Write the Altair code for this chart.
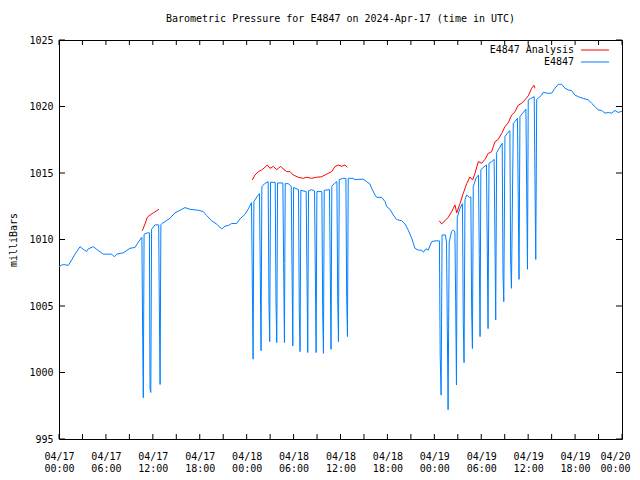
import altair as alt
import pandas as pd

# ---------------- data (hours after 2024-04-17 00:00 UTC, milliBars) ----------------
blue_hours = [
    0.0, 0.4, 0.77, 1.19, 1.62, 2.05, 2.69, 3.11, 3.54, 3.75, 4.39, 4.82, 5.66, 6.74, 7.07, 7.38,
    8.22, 9.08, 9.72, 10.14, 10.6,
    10.68, 10.78, 10.88, 11.3, 11.56, 11.64, 11.74, 11.84, 12.28, 12.75, 12.83, 12.93, 13.03,
    13.17, 13.55, 14.19, 14.83, 15.47, 16.11, 16.75, 17.81, 18.45, 18.89, 19.53, 20.17, 20.81,
    21.23, 21.65, 22.08, 22.72, 23.15, 23.79, 24.21,
    24.62, 24.72, 24.82, 24.92,
    25.3, 25.64, 25.74, 25.84, 25.94,
    26.3, 26.75, 26.85, 26.95, 27.05,
    27.65, 27.75, 27.85, 27.95,
    28.63, 28.73, 28.83, 28.93,
    29.3, 29.7, 29.8, 29.9, 30.0,
    30.63, 30.73, 30.83, 30.93,
    31.61, 31.71, 31.81, 31.91,
    32.3, 32.68, 32.78, 32.88, 32.98,
    33.62, 33.72, 33.82, 33.92,
    34.59, 34.69, 34.79, 34.89,
    35.2, 35.54, 35.64, 35.74, 35.84,
    36.3, 36.69, 36.79, 36.89, 36.99,
    37.6, 37.85, 38.49, 38.91, 39.35, 39.77, 39.99, 40.41, 40.63, 41.27, 41.69, 41.91, 42.33,
    42.75, 43.18, 43.82, 44.25, 44.67, 45.1, 45.52, 45.95, 46.38, 46.59, 46.93, 47.22, 47.66,
    48.08, 48.5,
    48.65, 48.75, 48.87, 48.99, 49.4,
    49.56, 49.66, 49.76, 49.9, 50.2, 50.42,
    50.63, 50.73, 50.83, 50.93, 51.28,
    51.6, 51.7, 51.8, 51.92, 52.14, 52.47,
    52.67, 52.77, 52.87, 52.98, 53.32,
    53.65, 53.75, 53.85, 53.95, 54.26,
    54.67, 54.77, 54.87, 54.99, 55.33,
    55.65, 55.75, 55.85, 55.97, 56.3,
    56.68, 56.78, 56.88, 57.03, 57.33,
    57.66, 57.76, 57.86, 58.1, 58.35,
    58.63, 58.73, 58.83, 58.95, 59.3,
    59.71, 59.81, 59.91, 60.01, 60.32,
    60.77, 60.87, 60.97, 61.09, 61.42, 61.73,
    61.93, 62.37, 63.0, 63.43, 63.85, 64.28, 64.71, 65.13, 65.56, 65.98, 66.41, 67.05, 67.69,
    68.12, 68.54, 68.96, 69.4, 69.82, 70.24, 70.68, 71.1, 71.52, 72.0,
]
blue_mb = [
    1007.95, 1008.1, 1008.1, 1008.05, 1008.46, 1008.9, 1009.46, 1009.26, 1009.1, 1009.3, 1009.46,
    1009.26, 1008.9, 1008.9, 1008.7, 1008.9, 1009.0, 1009.34, 1009.4, 1009.8, 1010.17,
    1004.25, 998.1, 1010.4, 1010.5, 1010.5, 998.76, 998.5, 1010.77, 1011.1, 1011.1, 1005.07, 999.1, 1011.1,
    1011.2, 1011.34, 1011.6, 1012.0, 1012.2, 1012.4, 1012.27, 1012.2, 1012.1, 1011.8, 1011.4, 1011.15,
    1010.8, 1011.0, 1011.05, 1011.2, 1011.2, 1011.55, 1011.9, 1012.3,
    1012.77, 1006.95, 1001.0, 1012.85,
    1013.2, 1013.45, 1007.58, 1001.64, 1013.97,
    1014.2, 1014.35, 1005.33, 1002.32, 1014.3,
    1014.3, 1005.33, 1002.25, 1014.25,
    1014.25, 1008.2, 1002.25, 1014.2,
    1014.2, 1014.0, 1007.95, 1002.0, 1013.9,
    1013.75, 1004.57, 1001.57, 1013.7,
    1013.6, 1007.58, 1001.5, 1013.65,
    1013.75, 1013.65, 1007.58, 1001.5, 1013.6,
    1013.6, 1004.57, 1001.44, 1013.7,
    1013.75, 1007.7, 1001.74, 1014.0,
    1014.2, 1014.35, 1005.7, 1002.32, 1014.5,
    1014.6, 1014.6, 1005.7, 1002.7, 1014.6,
    1014.6, 1014.5, 1014.53, 1014.53, 1014.35, 1014.17, 1013.85, 1013.35, 1013.17, 1013.17,
    1012.85, 1012.47, 1012.27, 1011.84, 1011.5, 1011.41, 1011.17, 1010.7, 1010.1, 1009.34, 1009.2,
    1009.2, 1009.04, 1009.3, 1009.2, 1009.84, 1009.9, 1009.9,
    1009.9, 1001.24, 998.3, 1010.34, 1010.34,
    1009.8, 1003.4, 997.2, 1009.8, 1010.6, 1010.7,
    1010.6, 1005.33, 999.06, 1011.67, 1012.35,
    1012.7, 1003.9, 1000.74, 1013.0, 1013.35, 1013.17,
    1013.2, 1004.75, 1001.8, 1013.97, 1014.6,
    1014.85, 1008.8, 1002.7, 1015.23, 1015.43,
    1015.6, 1009.3, 1003.3, 1015.73, 1015.85,
    1016.03, 1010.2, 1003.95, 1016.53, 1016.86,
    1017.23, 1007.46, 1005.33, 1017.73, 1017.98,
    1018.18, 1008.46, 1006.33, 1018.73, 1018.9,
    1019.11, 1013.1, 1007.0, 1019.24, 1019.5,
    1019.8, 1013.85, 1007.76, 1020.49, 1020.6,
    1020.74, 1014.6, 1008.5, 1020.54, 1020.7, 1020.86,
    1021.07, 1021.0, 1021.0, 1021.37, 1021.67, 1021.67, 1021.37, 1021.24, 1021.2, 1020.86, 1020.74,
    1020.6, 1020.5, 1020.24, 1020.0, 1019.74, 1019.7, 1019.5, 1019.55, 1019.5, 1019.7, 1019.55, 1019.65,
]

red_hours = [
    10.65, 11.0, 11.29, 11.64, 12.06, 12.79,
    24.72, 25.06, 25.49, 25.92, 26.34, 26.64, 26.98, 27.4, 27.84, 28.04, 28.35, 28.68, 29.12, 29.54,
    29.96, 30.6, 31.24, 31.68, 32.31, 32.95, 33.59, 34.23, 34.87, 35.29, 35.72, 36.15, 36.57, 36.87,
    48.63, 48.94, 49.36, 49.78, 50.22, 50.64, 50.86, 51.28, 51.7, 52.14, 52.56, 52.9, 53.2, 53.62,
    54.05, 54.48, 54.9, 55.33, 55.75, 56.18, 56.61, 57.03, 57.46, 57.89, 58.31, 58.73, 59.17, 59.59,
    60.01, 60.45, 60.74, 60.87,
]
red_mb = [
    1010.66, 1011.17, 1011.67, 1011.84, 1012.0, 1012.27,
    1014.47, 1014.85, 1015.1, 1015.23, 1015.43, 1015.6, 1015.35, 1015.5, 1015.25, 1015.35, 1015.5,
    1015.3, 1015.1, 1015.1, 1014.85, 1014.68, 1014.6, 1014.68, 1014.6, 1014.68, 1014.72, 1014.92,
    1015.1, 1015.48, 1015.6, 1015.5, 1015.6, 1015.43,
    1011.41, 1011.17, 1011.41, 1011.67, 1012.1, 1012.6, 1012.0, 1012.7, 1013.47, 1014.2, 1014.7,
    1014.47, 1014.97, 1015.85, 1015.73, 1016.03, 1016.48, 1016.6, 1017.35, 1017.53, 1017.98,
    1018.48, 1018.78, 1019.36, 1019.6, 1020.1, 1020.24, 1020.5, 1020.8, 1021.37, 1021.6, 1021.37,
]
red_segment = [1] * 6 + [2] * 28 + [3] * 32

x_tick_values = list(range(0, 73, 6))
x_minor_ticks = list(range(0, 73, 3))
y_tick_values = [995, 1000, 1005, 1010, 1015, 1020, 1025]
legend_labels = ["E4847 Analysis", "E4847"]
legend_colors = ["#ff0000", "#0080ff"]
title_text = "Barometric Pressure for E4847 on 2024-Apr-17 (time in UTC)"

# ---------------- chart ----------------
FONT = "DejaVu Sans Mono"
W, H = 563, 399

blue = pd.DataFrame({"h": blue_hours, "mb": blue_mb, "i": range(len(blue_hours))})
red = pd.DataFrame({"h": red_hours, "mb": red_mb, "seg": red_segment, "i": range(len(red_hours))})
xt = pd.DataFrame({"h": x_minor_ticks})
yt = pd.DataFrame({"mb": y_tick_values})

xscale = alt.Scale(domain=[0, 72], nice=False, zero=False)
yscale = alt.Scale(domain=[995, 1025], nice=False, zero=False)

label_expr = ("['04/' + (17 + floor(datum.value / 24)), "
              "(datum.value % 24 < 10 ? '0' : '') + (datum.value % 24) + ':00']")

x_enc = alt.X("h:Q", scale=xscale, axis=alt.Axis(
    values=x_tick_values, labelExpr=label_expr, ticks=False, tickSize=0, domain=False, grid=False,
    title=None, labelFont=FONT, labelFontSize=10, labelColor="black", labelPadding=12,
    labelFlush=False, labelOverlap=False, labelLineHeight=12,
    labelOffset=alt.condition("datum.value == 72", alt.value(-7), alt.value(0))))
y_enc = alt.Y("mb:Q", scale=yscale, axis=alt.Axis(
    values=y_tick_values, format="d", ticks=False, tickSize=0, domain=False, grid=False,
    title="milliBars", titleFont=FONT, titleFontSize=10, titleFontWeight="normal",
    titleColor="black", titlePadding=10, labelFont=FONT, labelFontSize=10, labelColor="black",
    labelPadding=6, labelFlush=False, labelOverlap=False))

blue_line = alt.Chart(blue).mark_line(color="#0080ff", strokeWidth=1).encode(
    x=x_enc, y=y_enc, order="i:Q")
red_line = alt.Chart(red).mark_line(color="#ff0000", strokeWidth=1).encode(
    x=alt.X("h:Q", scale=xscale), y=alt.Y("mb:Q", scale=yscale), detail="seg:N", order="i:Q")

tick_len = 5
bottom_ticks = alt.Chart(xt).mark_rule(color="black", strokeWidth=1).encode(
    x=alt.X("h:Q", scale=xscale), y=alt.value(H), y2=alt.value(H - tick_len))
top_ticks = alt.Chart(xt).mark_rule(color="black", strokeWidth=1).encode(
    x=alt.X("h:Q", scale=xscale), y=alt.value(0), y2=alt.value(tick_len))
left_ticks = alt.Chart(yt).mark_rule(color="black", strokeWidth=1).encode(
    y=alt.Y("mb:Q", scale=yscale), x=alt.value(0), x2=alt.value(tick_len + 1))
right_ticks = alt.Chart(yt).mark_rule(color="black", strokeWidth=1).encode(
    y=alt.Y("mb:Q", scale=yscale), x=alt.value(W - tick_len - 1), x2=alt.value(W))

legend_layers = []
for k, (lab, col) in enumerate(zip(legend_labels, legend_colors)):
    d = pd.DataFrame({"label": [lab]})
    legend_layers.append(alt.Chart(d).mark_text(
        align="right", baseline="middle", font=FONT, fontSize=10, color="black").encode(
        x=alt.value(W - 48), y=alt.value(10 + 12 * k), text="label:N"))
    legend_layers.append(alt.Chart(d).mark_rule(color=col, strokeWidth=1).encode(
        x=alt.value(W - 41), x2=alt.value(W - 13), y=alt.value(10 + 12 * k)))

chart = alt.layer(
    blue_line, red_line, bottom_ticks, top_ticks, left_ticks, right_ticks, *legend_layers
).properties(
    width=W, height=H,
    title=alt.TitleParams(title_text, font=FONT, fontSize=10, fontWeight="normal",
                          color="black", anchor="middle", offset=11),
    padding={"left": 51, "top": 32, "right": 10, "bottom": 41},
    autosize=alt.AutoSizeParams(type="none"),
    background="white",
).configure_view(stroke="black", strokeWidth=1)

chart.save("out.html", embed_options={"renderer": "svg", "actions": False})
